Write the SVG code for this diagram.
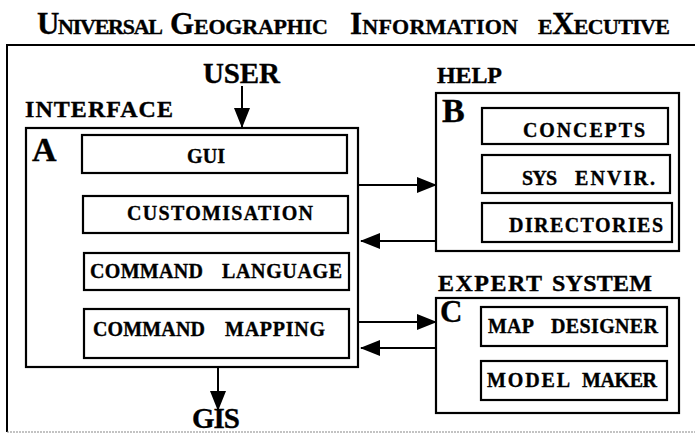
<svg xmlns="http://www.w3.org/2000/svg" width="695" height="434" viewBox="0 0 695 434">
<style>
text{font-family:"Liberation Serif","Times New Roman",serif;font-weight:bold;fill:#000;stroke:#000;stroke-width:0.35}
.box{fill:none;stroke:#000;stroke-width:2.2}
.lbl{font-size:20px}
.hd{font-size:24px}
.big{font-size:34px}
.conn{stroke:#000;stroke-width:2;fill:none}
.tb{font-size:31px}
.ts{font-size:22px}
</style>
<defs>
<marker id="ah" markerUnits="userSpaceOnUse" markerWidth="20" markerHeight="16" refX="19" refY="8" orient="auto">
<path d="M0,0 L20,8 L0,16 z" fill="#000"/>
</marker>
</defs>
<rect width="695" height="434" fill="#fff"/>
<g id="title">
<text x="37" y="34" textLength="126" lengthAdjust="spacing"><tspan class="tb">U</tspan><tspan class="ts">NIVERSAL</tspan></text>
<text x="170" y="34" textLength="158" lengthAdjust="spacing"><tspan class="tb">G</tspan><tspan class="ts">EOGRAPHIC</tspan></text>
<text x="350" y="34" textLength="168" lengthAdjust="spacing"><tspan class="tb">I</tspan><tspan class="ts">NFORMATION</tspan></text>
<text x="538" y="34" textLength="132" lengthAdjust="spacing"><tspan class="ts">E</tspan><tspan class="tb">X</tspan><tspan class="ts">ECUTIVE</tspan></text>
</g>
<g id="frame">
<path d="M695,45 L7,45 L7,432" fill="none" stroke="#000" stroke-width="2"/>
<line x1="7" y1="432" x2="695" y2="432" stroke="#888" stroke-width="1.2" stroke-dasharray="2,1"/>
</g>
<g id="user"><text x="203" y="83" font-size="29" textLength="77" lengthAdjust="spacing">USER</text></g>
<g id="gis"><text x="192" y="428" font-size="29" textLength="48" lengthAdjust="spacing">GIS</text></g>
<g id="interface">
<text class="hd" x="25" y="117" textLength="148" lengthAdjust="spacing">INTERFACE</text>
<rect class="box" x="26" y="128" width="332" height="239"/>
<text class="big" x="32" y="161">A</text>
</g>
<g id="gui"><rect class="box" x="82" y="135" width="265" height="38"/><text class="lbl" x="187" y="163" textLength="38" lengthAdjust="spacing">GUI</text></g>
<g id="customisation"><rect class="box" x="83" y="196" width="265" height="37"/><text class="lbl" x="127" y="220" textLength="186" lengthAdjust="spacing">CUSTOMISATION</text></g>
<g id="command-language"><rect class="box" x="84" y="253" width="265" height="37"/>
<text class="lbl" x="90" y="278" textLength="113" lengthAdjust="spacing">COMMAND</text>
<text class="lbl" x="222" y="278" textLength="120" lengthAdjust="spacing">LANGUAGE</text></g>
<g id="command-mapping"><rect class="box" x="84" y="309" width="265" height="49"/>
<text class="lbl" x="93" y="336" textLength="112" lengthAdjust="spacing">COMMAND</text>
<text class="lbl" x="225" y="336" textLength="100" lengthAdjust="spacing">MAPPING</text></g>
<g id="help">
<text class="hd" x="437" y="83" textLength="65" lengthAdjust="spacing">HELP</text>
<rect class="box" x="436" y="93" width="243" height="158"/>
<text class="big" x="442" y="122">B</text>
</g>
<g id="concepts"><rect class="box" x="482" y="108" width="186" height="36"/><text class="lbl" x="523" y="137" textLength="122" lengthAdjust="spacing">CONCEPTS</text></g>
<g id="sys-envir"><rect class="box" x="482" y="155" width="188" height="38"/>
<text class="lbl" x="522" y="185" textLength="35" lengthAdjust="spacing">SYS</text>
<text class="lbl" x="575" y="185" textLength="80" lengthAdjust="spacing">ENVIR.</text></g>
<g id="directories"><rect class="box" x="482" y="203" width="190" height="39"/><text class="lbl" x="509" y="232" textLength="154" lengthAdjust="spacing">DIRECTORIES</text></g>
<g id="expert-system">
<text class="hd" x="438" y="291" textLength="104" lengthAdjust="spacing">EXPERT</text>
<text class="hd" x="552" y="291" textLength="100" lengthAdjust="spacing">SYSTEM</text>
<rect class="box" x="436" y="298" width="243" height="115"/>
<text x="440" y="322" font-size="31">C</text>
</g>
<g id="map-designer"><rect class="box" x="481" y="307" width="186" height="39"/>
<text class="lbl" x="488" y="333" textLength="46" lengthAdjust="spacing">MAP</text>
<text class="lbl" x="551" y="333" textLength="107" lengthAdjust="spacing">DESIGNER</text></g>
<g id="model-maker"><rect class="box" x="481" y="361" width="186" height="39"/>
<text class="lbl" x="487" y="387" textLength="83" lengthAdjust="spacing">MODEL</text>
<text class="lbl" x="582" y="387" textLength="75" lengthAdjust="spacing">MAKER</text></g>
<g id="connectors">
<line class="conn" x1="242" y1="86" x2="242" y2="127" marker-end="url(#ah)"/>
<line class="conn" x1="218" y1="368" x2="218" y2="410" marker-end="url(#ah)"/>
<line class="conn" x1="359" y1="185" x2="436" y2="185" marker-end="url(#ah)"/>
<line class="conn" x1="436" y1="241" x2="361" y2="241" marker-end="url(#ah)"/>
<line class="conn" x1="359" y1="322" x2="436" y2="322" marker-end="url(#ah)"/>
<line class="conn" x1="436" y1="348" x2="361" y2="348" marker-end="url(#ah)"/>
</g>
</svg>
